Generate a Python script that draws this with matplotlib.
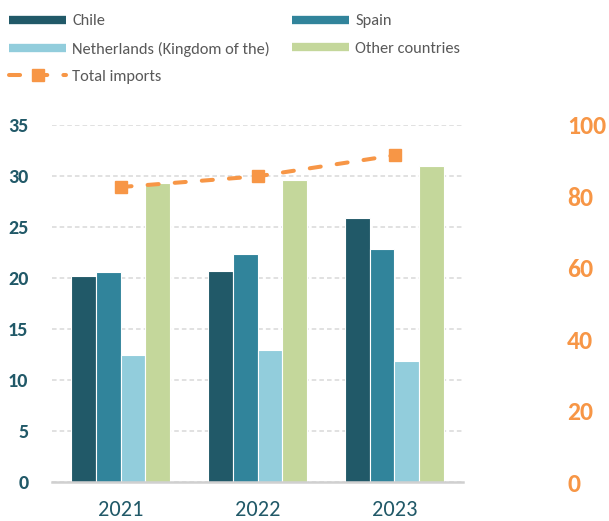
import matplotlib
matplotlib.use("Agg")
import matplotlib.pyplot as plt
from matplotlib.lines import Line2D
from matplotlib.font_manager import FontProperties
import numpy as np

plt.rcParams['font.family'] = ['Carlito', 'DejaVu Sans']

years = ["2021", "2022", "2023"]
series_names = ["Chile", "Spain", "Netherlands (Kingdom of the)", "Other countries"]
chile = [20.2, 20.7, 25.8]
spain = [20.6, 22.3, 22.8]
netherlands = [12.4, 12.9, 11.85]
other = [29.3, 29.6, 30.95]
total_imports = [82.5, 85.5, 91.4]
left_ticks = [0, 5, 10, 15, 20, 25, 30, 35]
right_ticks = [0, 20, 40, 60, 80, 100]

colors = ["#215968", "#31849B", "#92CDDC", "#C4D79B"]
orange = "#F79646"
teal = "#215968"

W, H = 609, 521
fig = plt.figure(figsize=(W / 100, H / 100), dpi=100)
ax = fig.add_axes([52 / W, 39 / H, 411 / W, 357.5 / H])
x = np.arange(len(years))
w = 0.18
for i, (vals, c) in enumerate(zip([chile, spain, netherlands, other], colors)):
    ax.bar(x + (i - 1.5) * w, vals, width=w, color=c, edgecolor='white', linewidth=0.8, zorder=3)

fp_left = FontProperties(family='Carlito', weight='bold', size=14.5)
fp_right = FontProperties(family='Carlito', weight='bold', size=18.5)
fp_x = FontProperties(family='Carlito', weight='normal', size=16)

ax.tick_params(axis='both', length=0)
ax.tick_params(axis='y', pad=17)
ax.tick_params(axis='x', pad=13)
ax.set_xlim(-0.5, 2.5)
ax.set_ylim(0, 35)
ax.set_yticks(left_ticks, [str(v) for v in left_ticks])
ax.set_xticks(x, years)
for s in ['top', 'right', 'left']:
    ax.spines[s].set_visible(False)
ax.spines['bottom'].set_color('#D0D0D0')
ax.spines['bottom'].set_linewidth(1.8)
ax.spines['bottom'].set_zorder(4)
ax.yaxis.grid(True, color='#D9D9D9', linestyle=(0, (3, 2)), linewidth=1.1, zorder=0)

ax2 = ax.twinx()
ax2.tick_params(axis='y', length=0, pad=75)
ax2.set_ylim(0, 100)
ax2.set_yticks(right_ticks, [str(v) for v in right_ticks])
for s in ['top', 'right', 'left', 'bottom']:
    ax2.spines[s].set_visible(False)
line_style = dict(color=orange, linewidth=2.9, linestyle=(0, (2.75, 4)),
                  dash_capstyle='round', marker='s', markersize=8.6)
ax2.plot(x, total_imports, zorder=5, **line_style)

handles = [
    Line2D([], [], color=colors[0], lw=6, solid_capstyle='butt'),
    Line2D([], [], color=colors[2], lw=6, solid_capstyle='butt'),
    Line2D([], [], **line_style),
    Line2D([], [], color=colors[1], lw=6, solid_capstyle='butt'),
    Line2D([], [], color=colors[3], lw=6, solid_capstyle='butt'),
]
labels = [series_names[0], series_names[2], "Total imports", series_names[1], series_names[3]]
leg = fig.legend(handles, labels, loc='upper left', bbox_to_anchor=(9.3 / W, 1 - 14 / H), ncol=2,
                 frameon=False, fontsize=11.8, handlelength=3.48, handletextpad=0.37,
                 columnspacing=1.34, labelspacing=0.8, borderaxespad=0, borderpad=0)
for t in leg.get_texts():
    t.set_color('#595959')

fig.canvas.draw()
for t in ax.get_yticklabels():
    t.set_fontproperties(fp_left)
    t.set_color(teal)
for t in ax.get_xticklabels():
    t.set_fontproperties(fp_x)
    t.set_color(teal)
for t in ax2.get_yticklabels():
    t.set_fontproperties(fp_right)
    t.set_color(orange)

fig.savefig("out.png", dpi=100)
